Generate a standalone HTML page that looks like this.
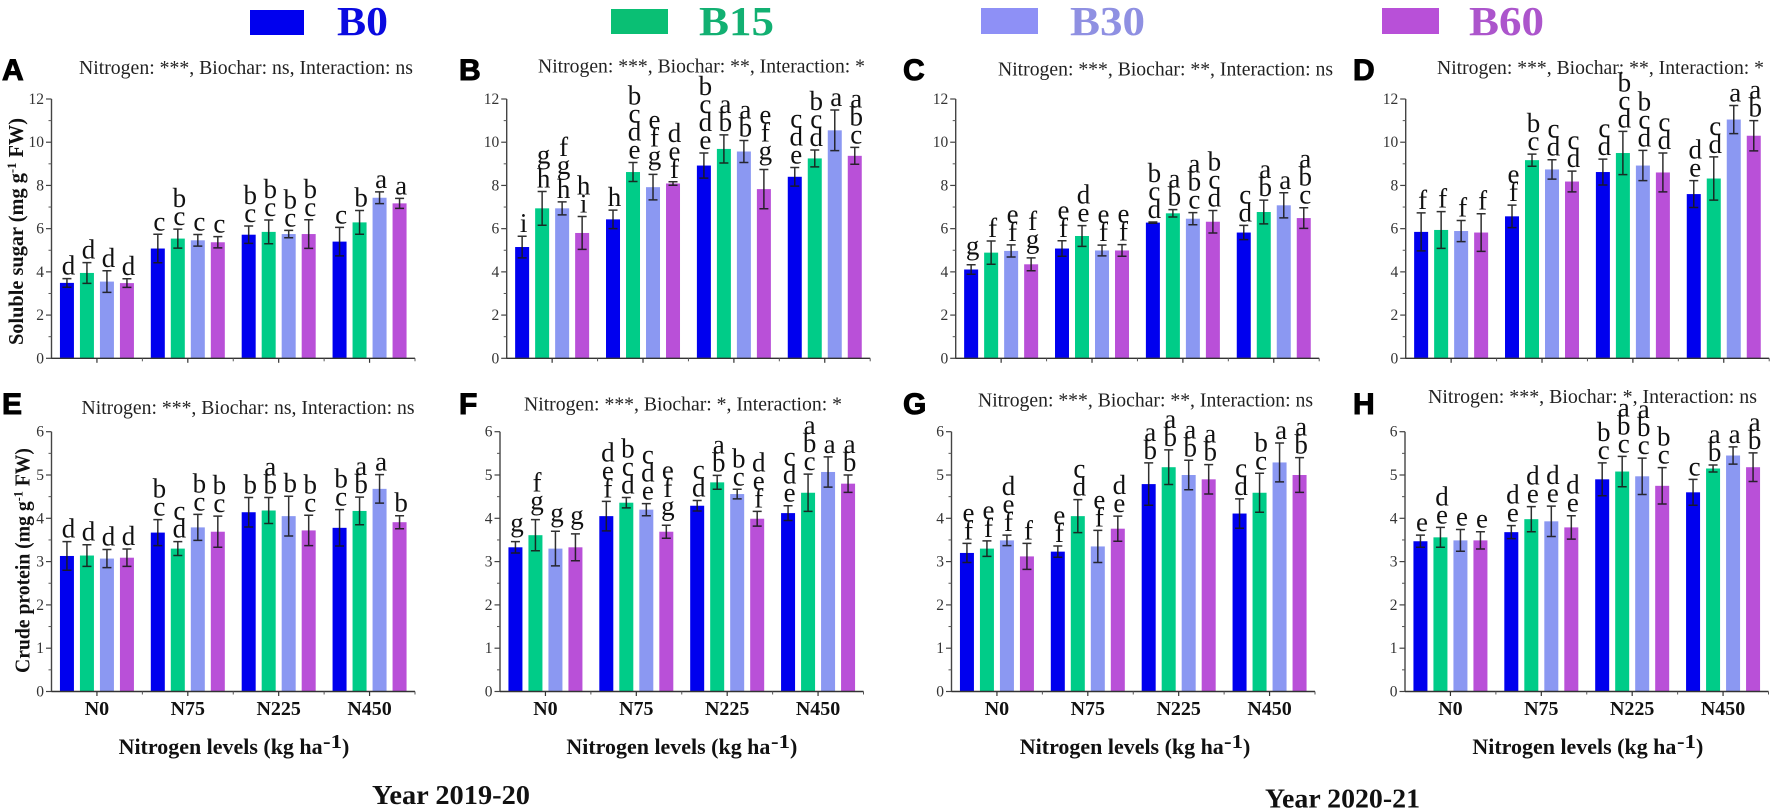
<!DOCTYPE html>
<html lang="en">
<head>
<meta charset="utf-8">
<title>Soluble sugar and crude protein by nitrogen level and biochar</title>
<style>
html,body{margin:0;padding:0;background:#fff;width:1772px;height:811px;overflow:hidden}
svg{display:block}
text{font-family:"Liberation Serif",serif;fill:#111}
.note{font-size:19.5px;fill:#222}
.panel-letter{font-family:"Liberation Sans",sans-serif;font-weight:700;font-size:30px;fill:#000;stroke:#000;stroke-width:1px}
.legend-text{font-weight:700;font-size:41px}
.x-title{font-weight:700;font-size:22px}
.x-sup{font-weight:700;font-size:20px}
.y-title{font-weight:700;font-size:21px}
.y-sup{font-weight:700;font-size:13px}
.year{font-weight:700;font-size:27.5px}
.tick-y{font-size:15.5px;fill:#333;text-anchor:end}
.tick-x{font-size:20px;font-weight:700;text-anchor:middle}
.sig{font-size:27px;fill:#111;text-anchor:middle}
</style>
</head>
<body>
<svg id="figure" width="1772" height="811" viewBox="0 0 1772 811" xmlns="http://www.w3.org/2000/svg">
  <g>
    <rect x="250" y="10" width="54" height="25" fill="#0000ee"/>
    <text class="legend-text" x="337" y="35" textLength="51" lengthAdjust="spacingAndGlyphs" style="fill:#0a0ae0">B0</text>
    <rect x="611" y="9" width="57" height="25" fill="#0abf74"/>
    <text class="legend-text" x="699" y="35" textLength="75" lengthAdjust="spacingAndGlyphs" style="fill:#12b072">B15</text>
    <rect x="981" y="8" width="57" height="26" fill="#8e90f6"/>
    <text class="legend-text" x="1070" y="35" textLength="75" lengthAdjust="spacingAndGlyphs" style="fill:#8f90e2">B30</text>
    <rect x="1382" y="8" width="57" height="26" fill="#b850d8"/>
    <text class="legend-text" x="1469" y="35" textLength="75" lengthAdjust="spacingAndGlyphs" style="fill:#ac55cc">B60</text>
  </g>

  <text class="panel-letter" x="2" y="80">A</text>
  <text class="panel-letter" x="459" y="80">B</text>
  <text class="panel-letter" x="903" y="80">C</text>
  <text class="panel-letter" x="1353" y="80">D</text>
  <text class="panel-letter" x="2" y="414">E</text>
  <text class="panel-letter" x="459" y="414">F</text>
  <text class="panel-letter" x="903" y="414">G</text>
  <text class="panel-letter" x="1353" y="414">H</text>

  <text class="note" x="79" y="74" textLength="334" lengthAdjust="spacingAndGlyphs">Nitrogen: ***, Biochar: ns, Interaction: ns</text>
  <text class="note" x="538" y="72.5" textLength="327" lengthAdjust="spacingAndGlyphs">Nitrogen: ***, Biochar: **, Interaction: *</text>
  <text class="note" x="998" y="75.5" textLength="335" lengthAdjust="spacingAndGlyphs">Nitrogen: ***, Biochar: **, Interaction: ns</text>
  <text class="note" x="1437" y="74" textLength="327" lengthAdjust="spacingAndGlyphs">Nitrogen: ***, Biochar: **, Interaction: *</text>
  <text class="note" x="81.5" y="414" textLength="333" lengthAdjust="spacingAndGlyphs">Nitrogen: ***, Biochar: ns, Interaction: ns</text>
  <text class="note" x="524" y="410.5" textLength="318" lengthAdjust="spacingAndGlyphs">Nitrogen: ***, Biochar: *, Interaction: *</text>
  <text class="note" x="978" y="406.5" textLength="335" lengthAdjust="spacingAndGlyphs">Nitrogen: ***, Biochar: **, Interaction: ns</text>
  <text class="note" x="1428" y="403" textLength="329" lengthAdjust="spacingAndGlyphs">Nitrogen: ***, Biochar: *, Interaction: ns</text>

  <text class="y-title" transform="translate(23 345) rotate(-90)" textLength="227" lengthAdjust="spacingAndGlyphs">Soluble sugar (mg g<tspan class="y-sup" dy="-7">-1</tspan><tspan dy="7"> FW)</tspan></text>
  <text class="y-title" transform="translate(29.5 673) rotate(-90)" textLength="225" lengthAdjust="spacingAndGlyphs">Crude protein (mg g<tspan class="y-sup" dy="-7">-1</tspan><tspan dy="7"> FW)</tspan></text>

  <g><text class="x-title" x="118.6" y="754" textLength="204" lengthAdjust="spacingAndGlyphs">Nitrogen levels (kg ha</text><text class="x-sup" x="323" y="748" textLength="19" lengthAdjust="spacingAndGlyphs">-1</text><text class="x-title" x="342" y="754">)</text></g>
  <g><text class="x-title" x="566.4" y="754" textLength="204" lengthAdjust="spacingAndGlyphs">Nitrogen levels (kg ha</text><text class="x-sup" x="771" y="748" textLength="19" lengthAdjust="spacingAndGlyphs">-1</text><text class="x-title" x="790" y="754">)</text></g>
  <g><text class="x-title" x="1019.8" y="754" textLength="204" lengthAdjust="spacingAndGlyphs">Nitrogen levels (kg ha</text><text class="x-sup" x="1224" y="748" textLength="19" lengthAdjust="spacingAndGlyphs">-1</text><text class="x-title" x="1243" y="754">)</text></g>
  <g><text class="x-title" x="1472.4" y="754" textLength="204" lengthAdjust="spacingAndGlyphs">Nitrogen levels (kg ha</text><text class="x-sup" x="1677" y="748" textLength="19" lengthAdjust="spacingAndGlyphs">-1</text><text class="x-title" x="1696" y="754">)</text></g>

  <text class="year" x="372" y="804" textLength="158" lengthAdjust="spacingAndGlyphs">Year 2019-20</text>
  <text class="year" x="1265" y="807.5" textLength="155" lengthAdjust="spacingAndGlyphs">Year 2020-21</text>
</svg>
<script>
// Shared categories and tick labels
const categories = ["N0", "N75", "N225", "N450"];
const seriesNames = ["B0", "B15", "B30", "B60"];
const seriesColors = ["#0000ee", "#00cc88", "#8b98f2", "#b950d8"];
const sugarTicks = [0, 2, 4, 6, 8, 10, 12];
const proteinTicks = [0, 1, 2, 3, 4, 5, 6];

// Panel A: soluble sugar 2019-20 (one row per nitrogen level, one column per biochar series)
const valuesA = [[3.49,3.95,3.55,3.48],[5.08,5.54,5.46,5.37],[5.72,5.85,5.75,5.75],[5.40,6.29,7.43,7.17]];
const errorsA = [[0.20,0.48,0.50,0.20],[0.66,0.44,0.27,0.26],[0.40,0.55,0.17,0.66],[0.66,0.55,0.27,0.23]];
const lettersA = [["d","d","d","d"],["c","bc","c","c"],["bc","bc","bc","bc"],["c","b","a","a"]];

// Panel B
const valuesB = [[5.15,6.94,6.94,5.80],[6.43,8.62,7.92,8.09],[8.92,9.69,9.57,7.83],[8.40,9.25,10.55,9.37]];
const errorsB = [[0.50,0.78,0.30,0.76],[0.43,0.44,0.59,0.08],[0.58,0.65,0.51,0.91],[0.43,0.39,0.94,0.39]];
const lettersB = [["i","gh","fgh","hi"],["h","bcde","efg","def"],["bcde","ab","ab","efg"],["cde","bcd","a","abc"]];

// Panel C
const valuesC = [[4.11,4.89,4.97,4.35],[5.08,5.66,4.99,4.99],[6.28,6.71,6.46,6.32],[5.82,6.77,7.08,6.49]];
const errorsC = [[0.22,0.54,0.28,0.30],[0.36,0.48,0.25,0.27],[0.03,0.17,0.28,0.52],[0.33,0.55,0.58,0.48]];
const lettersC = [["g","f","ef","fg"],["ef","de","ef","ef"],["bcd","ab","abc","bcd"],["cd","ab","a","abc"]];

// Panel D
const valuesD = [[5.85,5.94,5.89,5.82],[6.57,9.17,8.74,8.18],[8.62,9.50,8.92,8.60],[7.60,8.32,11.05,10.30]];
const errorsD = [[0.88,0.85,0.49,0.87],[0.52,0.28,0.45,0.48],[0.60,1.00,0.70,0.90],[0.62,1.00,0.65,0.70]];
const lettersD = [["f","f","f","f"],["ef","bc","cd","cd"],["cd","bcd","bcd","cd"],["de","cd","a","ab"]];

// Panel E: crude protein 2019-20
const valuesE = [[3.13,3.14,3.07,3.09],[3.67,3.30,3.79,3.69],[4.14,4.18,4.05,3.72],[3.78,4.17,4.68,3.91]];
const errorsE = [[0.33,0.25,0.21,0.20],[0.30,0.16,0.30,0.36],[0.34,0.30,0.46,0.35],[0.42,0.32,0.33,0.15]];
const lettersE = [["d","d","d","d"],["bc","cd","bc","bc"],["b","ab","b","bc"],["bc","ab","a","b"]];

// Panel F
const valuesF = [[3.33,3.61,3.30,3.33],[4.05,4.36,4.20,3.69],[4.29,4.83,4.56,3.99],[4.12,4.59,5.07,4.80]];
const errorsF = [[0.13,0.36,0.40,0.31],[0.34,0.12,0.14,0.15],[0.12,0.16,0.11,0.17],[0.17,0.43,0.35,0.20]];
const lettersF = [["g","fg","g","g"],["def","bcd","cde","efg"],["cd","ab","bc","def"],["cde","abc","a","ab"]];

// Panel G
const valuesG = [[3.20,3.30,3.49,3.12],[3.23,4.05,3.35,3.76],[4.79,5.18,5.00,4.90],[4.11,4.59,5.29,5.00]];
const errorsG = [[0.22,0.18,0.12,0.30],[0.13,0.38,0.37,0.29],[0.49,0.40,0.34,0.34],[0.34,0.45,0.45,0.40]];
const lettersG = [["ef","ef","def","f"],["ef","cd","ef","de"],["ab","ab","ab","ab"],["cd","bc","a","ab"]];

// Panel H
const valuesH = [[3.47,3.56,3.49,3.49],[3.68,3.98,3.93,3.79],[4.90,5.08,4.97,4.75],[4.60,5.15,5.45,5.18]];
const errorsH = [[0.14,0.23,0.25,0.20],[0.15,0.29,0.35,0.27],[0.38,0.35,0.42,0.42],[0.30,0.08,0.20,0.33]];
const lettersH = [["e","de","e","e"],["de","de","de","de"],["bc","abc","abc","bc"],["c","ab","a","ab"]];

const SVG_NS = "http://www.w3.org/2000/svg";
const figure = document.getElementById("figure");

function mk(tag, parent, props, content) {
  const el = document.createElementNS(SVG_NS, tag);
  for (const k in props) el.setAttribute(k, props[k]);
  if (content !== undefined) el.textContent = content;
  parent.appendChild(el);
  return el;
}

function drawPanel(id, originX, rowTop, rowBase, showXLabels, ticks, values, errors, letters) {
  const plotWidth = 363.5;
  const maxTick = ticks[ticks.length - 1];
  const yScale = v => rowBase - (v / maxTick) * (rowBase - rowTop);
  const groupCenter = i => originX + (i + 0.5) * (plotWidth / categories.length);
  const barCenter = (i, s) => groupCenter(i) + (s - (seriesNames.length - 1) / 2) * 20;

  const g = mk("g", figure, {});
  
  

  categories.forEach((cat, i) => {
    seriesNames.forEach((name, s) => {
      const v = values[i][s];
      const e = errors[i][s];
      const cx = barCenter(i, s);
      const bar = mk("rect", g, {x: cx - 7, y: yScale(v), width: 14, height: rowBase - yScale(v), fill: seriesColors[s]});
      
      

      const eb = mk("path", g, {
        d: "M" + (cx - 4.5) + " " + yScale(v + e) + "h9M" + cx + " " + yScale(v + e) + "V" + yScale(v - e) + "M" + (cx - 4.5) + " " + yScale(v - e) + "h9",
        stroke: "#1a1a1a", "stroke-width": 1.5, fill: "none", opacity: 0.9
      });
      
      

      const chars = letters[i][s].split("").reverse();
      let baseY = yScale(v + e) - 4;
      chars.forEach((ch, k) => {
        if (ch === "g") baseY -= 6;
        const t = mk("text", g, {class: "sig", x: cx + 1.5, y: baseY}, ch);
        
        
        baseY -= 18;
      });
    });
  });

  const yAxis = mk("line", g, {x1: originX, x2: originX, y1: rowTop, y2: rowBase + 0.5, stroke: "#444", "stroke-width": 1.4});
  
  
  const xAxis = mk("line", g, {x1: originX, x2: originX + plotWidth, y1: rowBase, y2: rowBase, stroke: "#333", "stroke-width": 1.4});
  
  

  ticks.forEach((tv, k) => {
    const major = mk("line", g, {x1: originX - 5.5, x2: originX, y1: yScale(tv), y2: yScale(tv), stroke: "#444", "stroke-width": 1.2});
    
    
    const label = mk("text", g, {class: "tick-y", x: originX - 7.5, y: yScale(tv) + 5}, String(tv));
    
    
    if (k < ticks.length - 1) {
      const mv = (tv + ticks[k + 1]) / 2;
      const minor = mk("line", g, {x1: originX - 3, x2: originX, y1: yScale(mv), y2: yScale(mv), stroke: "#555", "stroke-width": 1});
      
      
    }
  });

  categories.forEach((cat, i) => {
    const c = groupCenter(i);
    const t = mk("line", g, {x1: c, x2: c, y1: rowBase, y2: rowBase + 4.5, stroke: "#333", "stroke-width": 1.2});
    
    
    const edge = originX + (i + 1) * (plotWidth / categories.length);
    const m = mk("line", g, {x1: edge, x2: edge, y1: rowBase, y2: rowBase + 3, stroke: "#555", "stroke-width": 1});
    
    
    if (showXLabels) {
      const lab = mk("text", g, {class: "tick-x", x: c, y: rowBase + 23.5}, cat);
      
      
    }
  });
}

drawPanel("a", 51.5, 99, 358.3, false, sugarTicks, valuesA, errorsA, lettersA);
drawPanel("b", 506.7, 99, 358.3, false, sugarTicks, valuesB, errorsB, lettersB);
drawPanel("c", 955.7, 99, 358.3, false, sugarTicks, valuesC, errorsC, lettersC);
drawPanel("d", 1405.7, 99, 358.3, false, sugarTicks, valuesD, errorsD, lettersD);
drawPanel("e", 51.5, 431.7, 691.5, true, proteinTicks, valuesE, errorsE, lettersE);
drawPanel("f", 500, 431.7, 691.5, true, proteinTicks, valuesF, errorsF, lettersF);
drawPanel("g", 951.5, 431.7, 691.5, true, proteinTicks, valuesG, errorsG, lettersG);
drawPanel("h", 1405, 431.7, 691.5, true, proteinTicks, valuesH, errorsH, lettersH);
</script>
</body>
</html>
